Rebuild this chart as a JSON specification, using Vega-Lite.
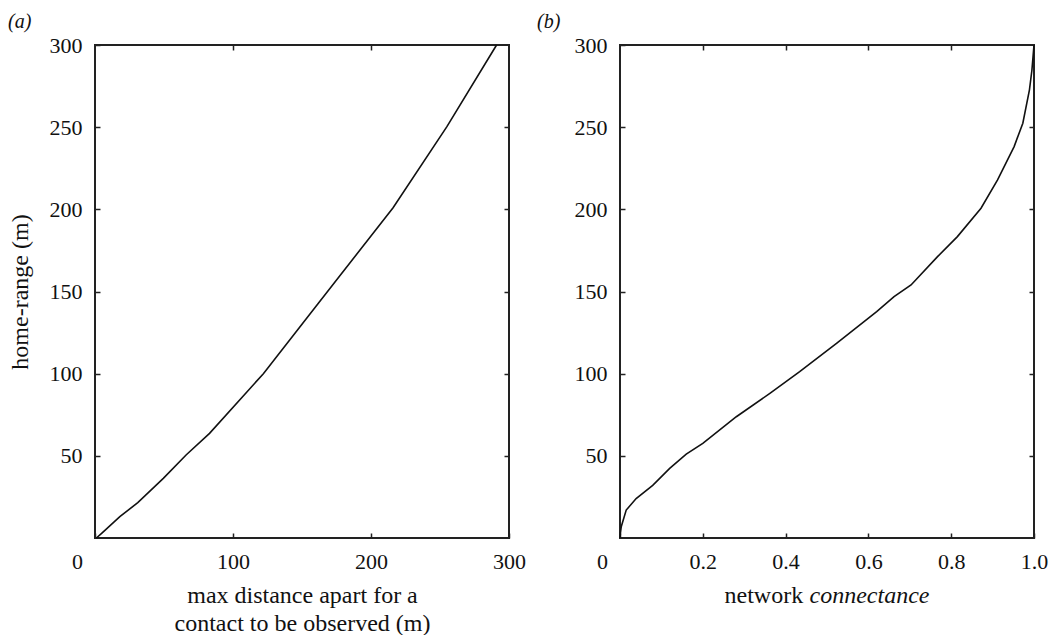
{
  "$schema": "https://vega.github.io/schema/vega-lite/v6.json",
  "padding": {"left": 7, "top": 11, "right": 5, "bottom": 5},
  "bounds": "flush",
  "spacing": 111,
  "background": "white",
  "config": {
    "view": {"stroke": "#222", "strokeWidth": 2},
    "axis": {
      "domain": false, "grid": false, "labelFlush": false, "labelOverlap": false,
      "labelFont": "Liberation Serif", "labelFontSize": 22, "labelColor": "#111",
      "titleFont": "Liberation Serif", "titleFontSize": 24, "titleFontWeight": "normal", "titleColor": "#111",
      "tickColor": "#222", "tickSize": -5, "tickWidth": 1.5, "labelPadding": 18
    },
    "title": {"font": "Liberation Serif", "fontSize": 20, "fontWeight": "normal", "fontStyle": "italic", "color": "#111", "anchor": "start", "frame": "group"}
  },
  "datasets": {
    "a": [
      {"x": 1, "y": 0}, {"x": 5, "y": 3}, {"x": 18, "y": 13}, {"x": 31, "y": 21.5},
      {"x": 49.5, "y": 36.3}, {"x": 66, "y": 50.5}, {"x": 83, "y": 63.7},
      {"x": 122, "y": 100}, {"x": 162, "y": 143}, {"x": 216, "y": 201},
      {"x": 255, "y": 250.3}, {"x": 291, "y": 300}
    ],
    "b": [
      {"x": 0, "y": 0}, {"x": 0.001, "y": 3}, {"x": 0.003, "y": 6.9}, {"x": 0.015, "y": 17},
      {"x": 0.039, "y": 24}, {"x": 0.079, "y": 32}, {"x": 0.12, "y": 42.4}, {"x": 0.16, "y": 51},
      {"x": 0.2, "y": 57.6}, {"x": 0.281, "y": 73.8}, {"x": 0.362, "y": 88}, {"x": 0.434, "y": 101.2},
      {"x": 0.523, "y": 118.5}, {"x": 0.62, "y": 137.7}, {"x": 0.662, "y": 146.9}, {"x": 0.703, "y": 154},
      {"x": 0.767, "y": 171.2}, {"x": 0.815, "y": 183.4}, {"x": 0.872, "y": 200.7}, {"x": 0.912, "y": 217.9},
      {"x": 0.952, "y": 238.2}, {"x": 0.973, "y": 252.4}, {"x": 0.989, "y": 272.7}, {"x": 0.995, "y": 284.8},
      {"x": 1.0, "y": 300}
    ]
  },
  "hconcat": [
    {
      "width": 414, "height": 493,
      "title": {"text": "(a)", "dx": -87, "offset": 2},
      "data": {"name": "a"},
      "layer": [
        {
          "mark": {"type": "line", "color": "#111", "strokeWidth": 1.6},
          "encoding": {
            "x": {"field": "x", "type": "quantitative", "scale": {"domain": [0, 300], "nice": false},
              "axis": {"values": [0, 100, 200, 300], "title": ["max distance apart for a", "contact to be observed (m)"],
                "labelOffset": {"condition": {"test": "datum.value === 0", "value": -18}, "value": 0},
                "titleY": 45, "titleBaseline": "top", "titleLineHeight": 28}},
            "y": {"field": "y", "type": "quantitative", "scale": {"domain": [0, 300], "nice": false},
              "axis": {"values": [50, 100, 150, 200, 250, 300], "title": "home-range (m)", "titlePadding": 17}}
          }
        },
        {
          "mark": {"type": "line", "opacity": 0},
          "encoding": {
            "x": {"field": "x", "type": "quantitative", "scale": {"domain": [0, 300], "nice": false},
              "axis": {"orient": "top", "values": [100, 200], "labels": false, "title": null}},
            "y": {"field": "y", "type": "quantitative", "scale": {"domain": [0, 300], "nice": false},
              "axis": {"orient": "right", "values": [50, 100, 150, 200, 250], "labels": false, "title": null}}
          }
        }
      ],
      "resolve": {"axis": {"x": "independent", "y": "independent"}}
    },
    {
      "width": 414, "height": 493,
      "title": {"text": "(b)", "dx": -83, "offset": 2},
      "data": {"name": "b"},
      "layer": [
        {
          "mark": {"type": "line", "color": "#111", "strokeWidth": 1.6},
          "encoding": {
            "x": {"field": "x", "type": "quantitative", "scale": {"domain": [0, 1], "nice": false},
              "axis": {"values": [0, 0.2, 0.4, 0.6, 0.8, 1.0], "labelExpr": "datum.value === 0 ? '0' : format(datum.value, '.1f')",
                "labelOffset": {"condition": {"test": "datum.value === 0", "value": -18}, "value": 0},
                "title": "network", "titleX": 104, "titleAlign": "left", "titleY": 45, "titleBaseline": "top"}},
            "y": {"field": "y", "type": "quantitative", "scale": {"domain": [0, 300], "nice": false},
              "axis": {"values": [50, 100, 150, 200, 250, 300], "title": null}}
          }
        },
        {
          "mark": {"type": "line", "opacity": 0},
          "encoding": {
            "x": {"field": "x", "type": "quantitative", "scale": {"domain": [0, 1], "nice": false},
              "axis": {"orient": "top", "values": [0.2, 0.4, 0.6, 0.8], "labels": false, "title": null}},
            "y": {"field": "y", "type": "quantitative", "scale": {"domain": [0, 300], "nice": false},
              "axis": {"orient": "right", "values": [50, 100, 150, 200, 250], "labels": false, "title": null}}
          }
        },
        {
          "mark": {"type": "line", "opacity": 0},
          "encoding": {
            "x": {"field": "x", "type": "quantitative", "scale": {"domain": [0, 1], "nice": false},
              "axis": {"orient": "bottom", "labels": false, "ticks": false, "title": "connectance", "titleFontStyle": "italic",
                "titleX": 189, "titleAlign": "left", "titleY": 45, "titleBaseline": "top"}}
          }
        }
      ],
      "resolve": {"axis": {"x": "independent", "y": "independent"}}
    }
  ]
}
